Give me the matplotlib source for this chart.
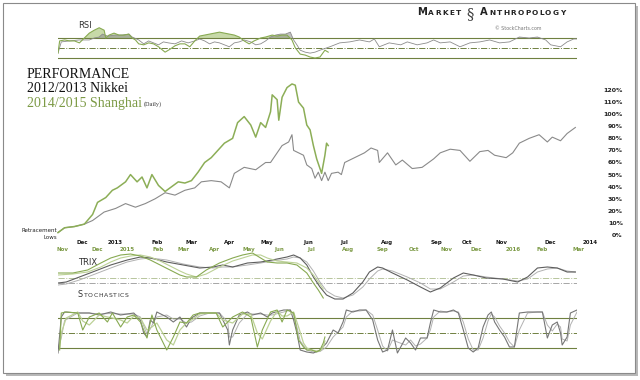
import matplotlib
matplotlib.use('Agg')
import numpy as np
import matplotlib.pyplot as plt
from matplotlib.patches import Rectangle

# ---- data ----
# x = trading days from the Nov 2012 start; y = % gain
nk_day = [0, 4, 10, 16, 21, 28, 35, 41, 47, 53, 59, 65, 71, 77, 83, 87, 93, 99, 104, 107,
          113, 120, 126, 129, 132, 136, 140, 142, 143, 146, 149, 151, 154, 156, 158, 160, 162, 164, 166, 170,
          172, 174, 180, 186, 190, 194, 195, 200, 205, 209, 215, 221, 228, 232, 238, 244, 250, 256, 261, 265,
          272, 276, 280, 286, 292, 297, 300, 305, 309, 314]
nk_pct = [2, 6, 7, 9, 12, 19, 22, 26, 23, 26, 30, 35, 33, 37, 39, 44, 45, 44, 39, 51,
          56, 54, 60, 60, 66, 74, 77, 83, 70, 68, 66, 58, 55, 47, 52, 45, 52, 45, 51, 52,
          50, 60, 64, 68, 72, 70, 60, 68, 58, 62, 55, 56, 63, 68, 71, 70, 61, 69, 70, 66,
          64, 68, 76, 80, 83, 77, 81, 78, 84, 89]

sh_day = [0, 4, 10, 16, 21, 24, 29, 33, 36, 41, 44, 48, 51, 54, 57, 61, 65, 69, 73, 77,
          81, 85, 89, 93, 97, 101, 106, 109, 113, 117, 120, 123, 126, 129, 130, 133, 134, 136, 139, 142,
          144, 146, 149, 151, 153, 155, 157, 159, 160, 162, 163, 164]
sh_pct = [2, 6, 7, 9, 17, 27, 31, 37, 39, 44, 50, 44, 48, 39, 50, 41, 36, 40, 44, 43,
          45, 52, 60, 64, 70, 76, 80, 93, 98, 91, 81, 93, 89, 102, 116, 112, 95, 114, 122, 125,
          124, 110, 105, 91, 87, 74, 63, 55, 51, 66, 76, 74]

# RSI
rsi_sh_day = [0, 1, 4, 7, 10, 13, 16, 19, 22, 25, 28, 29, 31, 34, 37, 40, 43, 45, 47, 49,
              52, 55, 58, 61, 65, 68, 71, 74, 77, 80, 83, 86, 89, 92, 95, 98, 101, 104, 107, 110,
              113, 116, 119, 123, 126, 130, 133, 136, 139, 142, 144, 147, 150, 153, 156, 159, 162, 164]
rsi_sh = [40, 65, 67, 65, 65, 61, 71, 81, 87, 92, 87, 71, 77, 81, 77, 77, 79, 71, 67, 59,
          57, 61, 59, 53, 42, 48, 55, 59, 59, 53, 65, 75, 77, 79, 81, 83, 81, 79, 77, 73,
          65, 59, 65, 71, 73, 77, 75, 77, 77, 67, 51, 38, 36, 32, 30, 32, 46, 42]

rsi_nk_day = [0, 2, 7, 13, 19, 22, 25, 27, 30, 35, 39, 43, 45, 49, 52, 55, 58, 61, 64, 67,
              71, 75, 79, 83, 86, 89, 92, 95, 98, 101, 104, 107, 110, 113, 117, 120, 123, 126, 129, 132,
              135, 138, 141, 143, 145, 147, 150, 153, 156, 159, 165, 171, 177, 183, 189, 192, 195, 201, 208, 212,
              218, 224, 228, 232, 238, 244, 250, 256, 262, 268, 274, 280, 286, 291, 296, 299, 305, 309, 313, 315]
rsi_nk = [40, 63, 65, 67, 67, 71, 73, 79, 75, 77, 77, 79, 73, 67, 59, 65, 61, 57, 63, 61,
          59, 65, 61, 65, 69, 65, 59, 63, 61, 57, 53, 61, 63, 67, 63, 57, 59, 65, 73, 77,
          79, 79, 83, 67, 57, 46, 42, 40, 42, 46, 53, 61, 63, 67, 63, 69, 53, 61, 57, 63,
          57, 61, 67, 61, 63, 53, 61, 63, 67, 61, 63, 73, 71, 73, 67, 57, 53, 63, 69, 69]

# TRIX (line and signal)
trix_nk_day = [0, 5, 13, 21, 32, 42, 50, 56, 66, 76, 86, 94, 100, 106, 115, 123, 130, 139, 143, 147,
               151, 155, 159, 163, 168, 173, 179, 185, 189, 194, 197, 203, 212, 220, 226, 232, 240, 246, 252, 260,
               270, 279, 285, 291, 297, 303, 309, 314]
trix_nk = [0, .1, .6, 1.1, 1.8, 2.3, 2.6, 2.5, 2.1, 1.8, 1.5, 1.6, 1.8, 1.6, 2.0, 2.1, 2.3, 2.6, 2.8, 2.5,
           1.8, .6, -.4, -1.2, -1.6, -1.6, -1.0, .1, 1.1, 1.6, 1.5, 1.0, .3, -.4, -.9, -.5, .5, 1.0, .8, .5,
           .4, .1, .6, 1.5, 1.6, 1.5, 1.1, 1.1]
trix_nk_sig = [-.2, -.1, .3, .8, 1.5, 2.1, 2.4, 2.5, 2.3, 1.9, 1.6, 1.5, 1.6, 1.6, 1.8, 2.0, 2.2, 2.4, 2.6, 2.5,
               2.1, 1.2, .1, -.8, -1.3, -1.5, -1.2, -.4, .4, 1.2, 1.4, 1.2, .6, 0, -.6, -.6, .1, .7, .8, .6,
               .4, .2, .4, 1.1, 1.4, 1.5, 1.2, 1.1]
trix_sh_day = [0, 9, 18, 26, 32, 38, 44, 50, 56, 62, 68, 74, 78, 84, 90, 98, 106, 112, 118, 123,
               127, 133, 139, 145, 151, 155, 158, 161]
trix_sh = [1.0, 1.0, 1.3, 2.0, 2.5, 2.8, 2.9, 2.7, 2.3, 1.8, 1.3, .8, .6, .6, 1.3, 2.0, 2.5, 2.8, 3.0, 2.5,
           2.1, 2.0, 2.0, 1.8, 1.0, 0, -.7, -1.5]
trix_sh_sig = [.8, .9, 1.1, 1.6, 2.1, 2.5, 2.7, 2.8, 2.6, 2.2, 1.7, 1.2, .9, .6, .9, 1.6, 2.2, 2.5, 2.8, 2.8,
               2.5, 2.2, 2.1, 2.0, 1.5, .8, .1, -.6]

# Stochastics (%K and %D)
st_nk_day = [0, 2, 4, 12, 19, 25, 32, 38, 46, 50, 52, 54, 56, 58, 60, 66, 70, 74, 78, 81,
             86, 92, 98, 103, 104, 106, 110, 115, 118, 123, 127, 130, 137, 141, 143, 145, 147, 151, 155, 159,
             163, 167, 170, 173, 175, 179, 183, 187, 191, 194, 197, 200, 203, 206, 211, 214, 217, 220, 224, 226,
             228, 232, 236, 240, 243, 246, 249, 252, 255, 258, 261, 263, 265, 268, 271, 274, 277, 280, 285, 291,
             294, 297, 300, 303, 305, 306, 309, 311, 315]
st_nk_k = [10, 82, 92, 90, 90, 86, 92, 86, 90, 76, 50, 42, 76, 70, 92, 82, 72, 82, 62, 80,
           90, 90, 90, 56, 26, 56, 86, 92, 86, 90, 82, 90, 96, 96, 76, 50, 16, 12, 10, 16,
           30, 56, 50, 72, 96, 92, 96, 96, 76, 36, 12, 16, 56, 10, 40, 30, 16, 40, 40, 70,
           96, 92, 92, 96, 90, 56, 20, 12, 20, 62, 86, 92, 72, 56, 42, 22, 22, 90, 92, 92,
           92, 40, 66, 72, 50, 26, 42, 90, 96]
st_nk_d = [20, 40, 75, 90, 90, 88, 89, 88, 88, 82, 64, 48, 58, 72, 82, 86, 78, 78, 70, 72,
           84, 90, 90, 72, 42, 42, 70, 88, 88, 88, 86, 86, 92, 96, 86, 62, 34, 16, 12, 13,
           22, 42, 52, 62, 82, 94, 94, 96, 86, 56, 24, 14, 36, 32, 26, 36, 24, 28, 40, 56,
           82, 94, 92, 94, 92, 72, 38, 16, 16, 40, 74, 88, 82, 64, 50, 32, 22, 56, 90, 92,
           92, 66, 54, 68, 62, 38, 34, 66, 92]
st_sh_day = [1, 2, 5, 12, 15, 19, 25, 30, 33, 38, 42, 46, 50, 54, 57, 60, 66, 70, 74, 78,
             82, 86, 92, 96, 100, 106, 112, 117, 121, 124, 129, 133, 136, 139, 143, 146, 149, 151, 154, 157,
             159, 161, 162]
st_sh_k = [16, 90, 92, 90, 56, 82, 90, 72, 90, 62, 82, 86, 72, 40, 86, 56, 16, 42, 72, 70,
           86, 90, 90, 90, 62, 82, 92, 82, 22, 56, 92, 96, 72, 96, 90, 36, 22, 16, 16, 12,
           16, 30, 42]
st_sh_d = [20, 50, 80, 92, 74, 66, 86, 82, 80, 76, 70, 84, 80, 56, 62, 70, 36, 26, 56, 70,
           78, 88, 90, 90, 76, 70, 88, 88, 50, 38, 74, 94, 84, 84, 92, 62, 30, 20, 16, 14,
           14, 22, 34]

nk_ticks = [15, 35, 60, 81, 104, 127, 152, 174, 200, 230, 248, 269, 299, 323]
nk_labels = ['Dec', '2013', 'Feb', 'Mar', 'Apr', 'May', 'Jun', 'Jul', 'Aug', 'Sep', 'Oct', 'Nov', 'Dec', '2014']
sh_ticks = [3, 24, 42, 61, 76, 95, 116, 134, 154, 176, 197, 216, 236, 254, 276, 294, 316]
sh_labels = ['Nov', 'Dec', '2015', 'Feb', 'Mar', 'Apr', 'May', 'Jun', 'Jul', 'Aug', 'Sep', 'Oct', 'Nov',
             'Dec', '2016', 'Feb', 'Mar']

# ---- style ----
W, H = 640, 380
GREEN = '#88aa52'
GREEN_L = '#bcd196'
GRAY = '#767676'
GRAY_L = '#b2b2b2'
OLIVE = '#6f8040'
TGREEN = '#7c9a45'
SANS = 'DejaVu Sans'
SERIF = 'Liberation Serif'


def rect(x0, y0, x1, y1):
    return [x0 / W, 1 - y1 / H, (x1 - x0) / W, (y1 - y0) / H]


def fy(y):
    return 1 - y / H


fig = plt.figure(figsize=(6.4, 3.8), dpi=100)
fig.patch.set_facecolor('white')

# frame + shadow
fig.add_artist(Rectangle((6 / W, fy(376)), 632 / W, 370 / H, transform=fig.transFigure,
                         facecolor='#b8b8b8', edgecolor='none', zorder=-3))
fig.add_artist(Rectangle((3 / W, fy(373)), 632 / W, 370 / H, transform=fig.transFigure,
                         facecolor='white', edgecolor='#8a8a8a', lw=0.8, zorder=-2))


def clean(ax):
    ax.set_facecolor('none')
    for s in ax.spines.values():
        s.set_visible(False)
    ax.set_xticks([])
    ax.set_yticks([])
    ax.set_xlim(0, 315)


# ---- RSI ----
ax_r = fig.add_axes(rect(58, 24, 577, 62))
clean(ax_r)
ax_r.set_ylim(21.8, 99.7)
ax_r.axhline(70, color=OLIVE, lw=0.8)
ax_r.axhline(50, color=OLIVE, lw=0.7, ls='-.')
ax_r.axhline(30, color=OLIVE, lw=0.8)
rn_x, rn_y = np.array(rsi_nk_day), np.array(rsi_nk)
rs_x, rs_y = np.array(rsi_sh_day), np.array(rsi_sh)
ax_r.fill_between(rs_x, 70, rs_y, where=rs_y > 70, interpolate=True, color='#a9c67a', alpha=0.65, lw=0)
ax_r.fill_between(rn_x, 70, rn_y, where=rn_y > 70, interpolate=True, color='#8f8f8f', alpha=0.55, lw=0)
ax_r.plot(rn_x, rn_y, color='#8c8c8c', lw=0.6)
ax_r.plot(rs_x, rs_y, color=GREEN, lw=0.8)
fig.text(78 / W, fy(28), 'RSI', fontsize=6, family=SANS, color='#333333')

# ---- main performance chart ----
ax = fig.add_axes(rect(58, 90, 577, 235))
clean(ax)
ax.set_ylim(0, 120)
ax.plot(nk_day, nk_pct, color='#8a8a8a', lw=0.8, clip_on=False)
ax.plot(sh_day, sh_pct, color='#8cae57', lw=1.1, clip_on=False)
ax.yaxis.tick_right()
ax.set_yticks(range(0, 121, 10))
ax.set_yticklabels([f'{v}%' for v in range(0, 121, 10)])
ax.tick_params(axis='y', length=0, pad=33, labelsize=4.5, labelcolor='#222222')
for lbl in ax.get_yticklabels():
    lbl.set_ha('right')
    lbl.set_fontweight('bold')
    lbl.set_family(SANS)

trans = ax.get_xaxis_transform()
for d, lab in zip(nk_ticks, nk_labels):
    ax.text(d, -0.055, lab, transform=trans, ha='center', va='center', fontsize=4,
            fontweight='bold', color='#1a1a1a', family=SANS, clip_on=False)
for d, lab in zip(sh_ticks, sh_labels):
    ax.text(d, -0.1, lab, transform=trans, ha='center', va='center', fontsize=4,
            fontweight='bold', color=TGREEN, family=SANS, clip_on=False)

fig.text(57 / W, fy(232), 'Retracement', ha='right', fontsize=4, family=SANS, color='#222222')
fig.text(57 / W, fy(239), 'Lows', ha='right', fontsize=4, family=SANS, color='#222222')

# titles
fig.text(27 / W, fy(78), 'PERFORMANCE', fontsize=10, family=SERIF, color='#111111')
fig.text(27 / W, fy(92), '2012/2013 Nikkei', fontsize=10, family=SERIF, color='#111111')
fig.text(27 / W, fy(107), '2014/2015 Shanghai', fontsize=10, family=SERIF, color=TGREEN)
fig.text(144 / W, fy(106), '(Daily)', fontsize=4.5, family=SERIF, color='#333333')

# ---- TRIX ----
ax_t = fig.add_axes(rect(58, 250, 577, 305))
clean(ax_t)
ax_t.set_ylim(-2.2, 3.3)
ax_t.axhline(0.5, color='#b7c59c', lw=0.7, ls='-.')
ax_t.axhline(0, color='#a6a6a6', lw=0.7, ls='-.')
ax_t.plot(trix_nk_day, trix_nk_sig, color=GRAY_L, lw=0.7)
ax_t.plot(trix_nk_day, trix_nk, color='#5e5e5e', lw=0.8)
ax_t.plot(trix_sh_day, trix_sh_sig, color=GREEN_L, lw=0.8)
ax_t.plot(trix_sh_day, trix_sh, color=GREEN, lw=0.8)
fig.text(78 / W, fy(265), 'TRIX', fontsize=6, family=SANS, color='#333333')

# ---- Stochastics ----
ax_s = fig.add_axes(rect(58, 306, 577, 358))
clean(ax_s)
ax_s.set_ylim(0, 104)
ax_s.axhline(80, color=OLIVE, lw=0.8)
ax_s.axhline(50, color=OLIVE, lw=0.7, ls='-.')
ax_s.axhline(20, color=OLIVE, lw=0.8)
ax_s.plot(st_nk_day, st_nk_d, color=GRAY_L, lw=0.7)
ax_s.plot(st_nk_day, st_nk_k, color=GRAY, lw=0.8)
ax_s.plot(st_sh_day, st_sh_d, color=GREEN_L, lw=0.9)
ax_s.plot(st_sh_day, st_sh_k, color=GREEN, lw=0.8)

renderer = fig.canvas.get_renderer()


def caps(x, y, parts, track=0.0, color='#333333', family=SANS, weight='normal'):
    # draw text piece by piece so capitals and small caps can differ in size
    for s, size in parts:
        for ch in s:
            t = fig.text(x / W, fy(y), ch, fontsize=size, family=family, color=color,
                         ha='left', va='baseline', fontweight=weight)
            x += t.get_window_extent(renderer=renderer).width + track
    return x


caps(78, 297, [('S', 5.8), ('TOCHASTICS', 4.4)], track=0.6)

x_end = caps(417, 15, [('M', 7.2), ('ARKET', 5.3)], track=1.3, color='#222222', weight='bold')
fig.text((x_end + 4) / W, fy(18), '§', fontsize=10.5, family='DejaVu Serif', color='#3a3a3a')
caps(480, 15, [('A', 7.2), ('NTHROPOLOGY', 5.3)], track=1.3, color='#222222', weight='bold')
fig.text(495 / W, fy(30), '© StockCharts.com', fontsize=3.4, family=SANS, color='#777777')

fig.savefig('out.png', dpi=100, facecolor='white')
